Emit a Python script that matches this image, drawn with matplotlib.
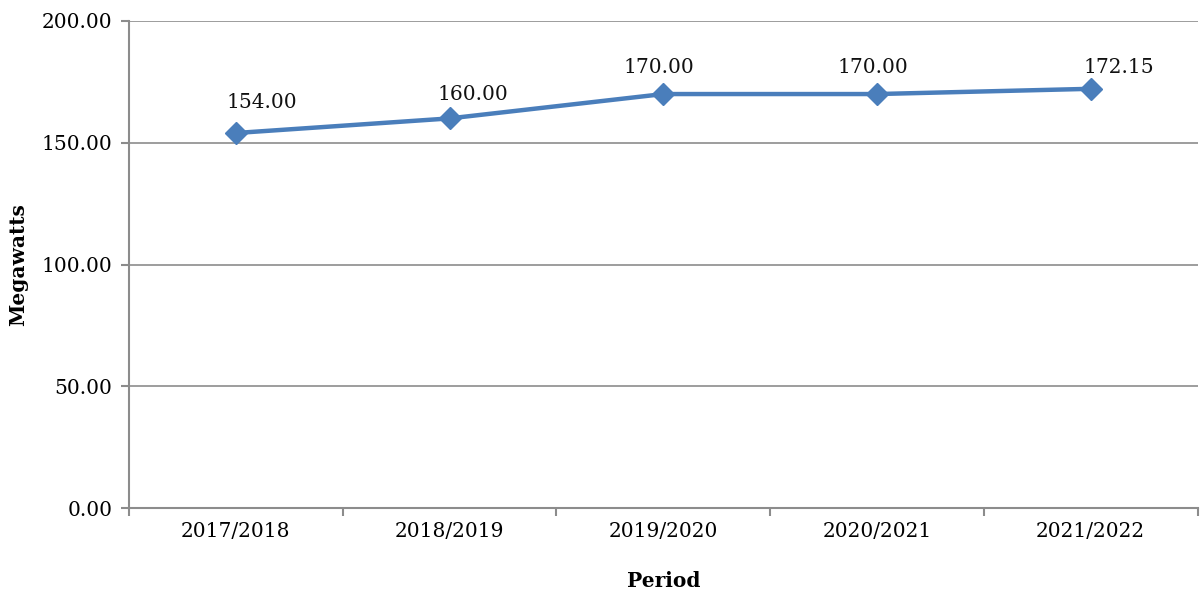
import matplotlib.pyplot as plt
from matplotlib.ticker import FixedLocator, FormatStrFormatter

periods = ['2017/2018', '2018/2019', '2019/2020', '2020/2021', '2021/2022']
megawatts = [154.00, 160.00, 170.00, 170.00, 172.15]
y_ticks = [0, 50, 100, 150, 200]

# label nudges in points (dx, dy) so the numbers sit like the original layout
label_offsets = [(19, 22), (17, 17), (-3, 19), (-3, 19), (20, 15)]

plt.rcParams['font.family'] = ['DejaVu Serif']

fig = plt.figure(figsize=(12, 5.93), dpi=100)
ax = fig.add_axes([0.1075, 0.1433, 0.8905, 0.8213])

line_color = '#4a7ebb'
grid_color = '#8c8c8c'

x = list(range(len(periods)))
ax.plot(x, megawatts, color=line_color, linewidth=3.2, marker='D',
        markersize=11, zorder=3)

for xi, v, (dx, dy) in zip(x, megawatts, label_offsets):
    ax.annotate(f'{v:.2f}', (xi, v), xytext=(dx, dy), textcoords='offset points',
                ha='center', va='center', fontsize=14.5, color='#111111')

ax.set_xlim(-0.5, len(periods) - 0.5)
ax.set_ylim(0, 200)

ax.set_yticks(y_ticks)
ax.yaxis.set_major_formatter(FormatStrFormatter('%.2f'))
ax.set_xticks(x)
ax.set_xticklabels(periods)
ax.xaxis.set_minor_locator(FixedLocator([i - 0.5 for i in range(len(periods) + 1)]))
ax.tick_params(axis='x', which='major', length=0, pad=10, labelsize=14.5)
ax.tick_params(axis='x', which='minor', length=6, color=grid_color, width=1.5)
ax.tick_params(axis='y', length=6, color=grid_color, width=1.5, pad=6, labelsize=14.5)

ax.grid(axis='y', color=grid_color, linewidth=1.2)
ax.set_axisbelow(True)
for side in ['top', 'right']:
    ax.spines[side].set_visible(False)
for side in ['left', 'bottom']:
    ax.spines[side].set_color(grid_color)
    ax.spines[side].set_linewidth(1.5)

ax.set_xlabel('Period', fontsize=14.5, fontweight='bold', labelpad=22)
ax.set_ylabel('Megawatts', fontsize=14.5, fontweight='bold', labelpad=10)

fig.savefig('out.png', dpi=100)
